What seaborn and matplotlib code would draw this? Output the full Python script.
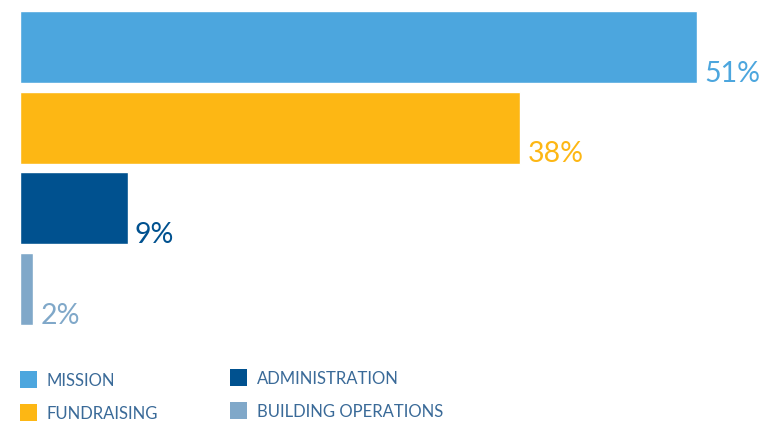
import matplotlib
matplotlib.use("Agg")
import matplotlib.pyplot as plt
import seaborn as sns
import pandas as pd
from matplotlib.patches import Rectangle

categories = ["MISSION", "FUNDRAISING", "ADMINISTRATION", "BUILDING OPERATIONS"]
bar_values = [51, 37.7, 8.1, 1.0]
labels = ["51%", "38%", "9%", "2%"]
colors = ["#4ca6de", "#fdb714", "#00518f", "#80a8c9"]

df = pd.DataFrame({"category": categories, "value": bar_values})

sns.set_theme(style="white")
plt.rcParams["font.family"] = ["Lato", "DejaVu Sans"]

fig = plt.figure(figsize=(7.61, 4.22), dpi=100)
ax = fig.add_axes([20 / 761, 0.2197, 741 / 761, 0.7645])

sns.barplot(data=df, x="value", y="category", hue="category", palette=colors,
            orient="h", width=0.89, legend=False, ax=ax, saturation=1)

ax.set_xlim(0, 51 * 741 / 677)
ax.set_ylim(3.5, -0.5)
ax.axis("off")

for i, (v, lab, c) in enumerate(zip(bar_values, labels, colors)):
    ax.annotate(lab, xy=(v, i + 0.43), xytext=(5, 0), textcoords="offset points",
                ha="left", va="baseline", color=c, fontsize=20.5)

# legend drawn in figure pixels
legend_pos = [(20, 371), (20, 404), (230, 369), (230, 402)]
for (px, py), name, c in zip(legend_pos, categories, colors):
    fig.add_artist(Rectangle((px / 761, 1 - (py + 17) / 422), 17 / 761, 17 / 422,
                             transform=fig.transFigure, color=c, lw=0))
    fig.text((px + 27) / 761, 1 - (py + 10) / 422, name, ha="left", va="center",
             fontsize=12, color="#3a6a98")

fig.savefig("out.png", dpi=100)
